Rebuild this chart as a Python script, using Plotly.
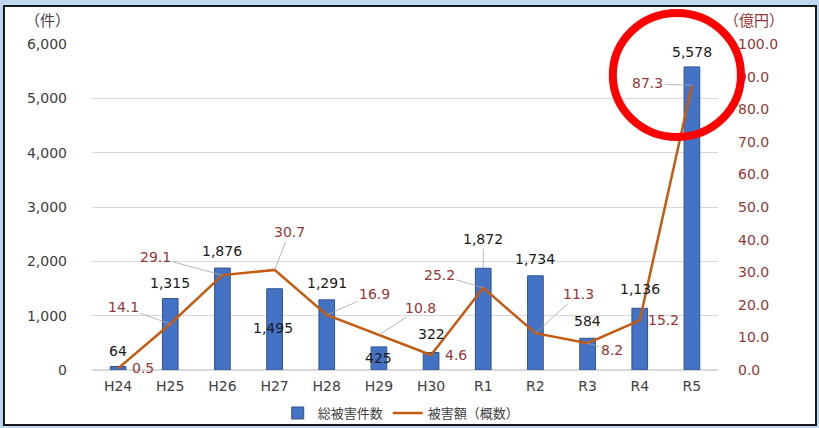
import plotly.graph_objects as go

# ---- data ----
categories = ["H24", "H25", "H26", "H27", "H28", "H29", "H30", "R1", "R2", "R3", "R4", "R5"]
cases = [64, 1315, 1876, 1495, 1291, 425, 322, 1872, 1734, 584, 1136, 5578]
damage = [0.5, 14.1, 29.1, 30.7, 16.9, 10.8, 4.6, 25.2, 11.3, 8.2, 15.2, 87.3]
left_ticks = [0, 1000, 2000, 3000, 4000, 5000, 6000]
right_ticks = [0, 10, 20, 30, 40, 50, 60, 70, 80, 90, 100]

# ---- label placement (pixel offsets: dx right, dy down) ----
bar_label_off = [(0, -16), (0, -16), (0, -17), (-2, 39), (0, -17), (0, 11),
                 (0, -19), (0, -29), (0, -17), (0, -17), (0, -19), (0, -15)]
bar_label_arrow = [False, False, False, False, False, False,
                   False, True, False, False, False, False]
line_label_off = [(25, 0), (-47, -17), (-67, -18), (15, -38), (48, -21), (42, -27),
                  (25, 0), (-44, -13), (43, -39), (24, 7), (24, 0), (-44, -2)]
line_label_arrow = [False, True, True, True, True, True,
                    False, True, True, True, False, True]

FONT = "DejaVu Sans, Noto Sans CJK JP, sans-serif"
JP = "Noto Sans CJK JP, sans-serif"
BAR = "#4472C4"
LINE = "#C55A11"
RED_TXT = "#953735"
GRAY_TXT = "#404040"

fig = go.Figure()
fig.add_trace(go.Bar(
    x=categories, y=cases, name="総被害件数",
    marker=dict(color=BAR, line=dict(color="#2F528F", width=1)),
    width=0.3, yaxis="y",
))
fig.add_trace(go.Scatter(
    x=categories, y=damage, name="被害額（概数）", mode="lines",
    line=dict(color=LINE, width=2.5), yaxis="y2",
))

ann = []
for c, v, (dx, dy), arr in zip(categories, cases, bar_label_off, bar_label_arrow):
    a = dict(x=c, y=v, xref="x", yref="y", text=f"{v:,}",
             font=dict(family=FONT, size=14, color="#1a1a1a"))
    if arr:
        a.update(showarrow=True, arrowhead=0, arrowwidth=0.8, arrowcolor="#A6A6A6",
                 ax=dx, ay=dy, standoff=0)
    else:
        a.update(showarrow=False, xshift=dx, yshift=-dy)
    ann.append(a)
for c, v, (dx, dy), arr in zip(categories, damage, line_label_off, line_label_arrow):
    a = dict(x=c, y=v, xref="x", yref="y2", text=f"{v:.1f}",
             font=dict(family=FONT, size=14, color=RED_TXT))
    if arr:
        a.update(showarrow=True, arrowhead=0, arrowwidth=0.8, arrowcolor="#A6A6A6",
                 ax=dx, ay=dy, standoff=0)
    else:
        a.update(showarrow=False, xshift=dx, yshift=-dy)
    ann.append(a)

ann.append(dict(x=-0.071, y=1.075, xref="paper", yref="paper", text="（件）",
                xanchor="center", yanchor="middle",
                showarrow=False, font=dict(family=JP, size=15, color=GRAY_TXT)))
ann.append(dict(x=1.057, y=1.075, xref="paper", yref="paper", text="（億円）",
                xanchor="center", yanchor="middle",
                showarrow=False, font=dict(family=JP, size=15, color=RED_TXT)))

shapes = [
    # white panel with dark frame
    dict(type="rect", xref="paper", yref="paper", x0=-0.1406, x1=1.1565,
         y0=-0.1687, y1=1.1166, fillcolor="white", line=dict(color="#1a1a1a", width=2),
         layer="below"),
    # red highlight circle
    dict(type="circle", xref="paper", yref="paper", x0=0.832, x1=1.0367,
         y0=0.7147, y1=1.095, line=dict(color="#FF0000", width=8), layer="above"),
]

fig.update_layout(
    width=819, height=428,
    margin=dict(l=92, r=101, t=44, b=58, autoexpand=False),
    paper_bgcolor="#BDD7EE", plot_bgcolor="white",
    font=dict(family=FONT, size=14, color=GRAY_TXT),
    showlegend=True,
    legend=dict(orientation="h", x=0.494, xanchor="center", y=-0.132, yanchor="middle",
                font=dict(family=JP, size=13, color=GRAY_TXT), bgcolor="rgba(0,0,0,0)",
                itemwidth=30, tracegroupgap=0),
    xaxis=dict(type="category", showgrid=False, showline=False, ticks="", automargin=False,
               tickfont=dict(family=FONT, size=14, color=GRAY_TXT), ticklabelstandoff=6),
    yaxis=dict(range=[0, 6000], tickvals=left_ticks, tickformat=",d", automargin=False,
               showgrid=True, gridcolor="#D9D9D9", gridwidth=1, zeroline=True,
               zerolinecolor="#D9D9D9", showline=False, ticks="",
               tickfont=dict(family=FONT, size=14, color=GRAY_TXT), ticklabelstandoff=24),
    yaxis2=dict(range=[0, 100], tickvals=right_ticks, tickformat=".1f", automargin=False,
                overlaying="y", side="right", showgrid=False, zeroline=False,
                showline=False, ticks="",
                tickfont=dict(family=FONT, size=14, color=RED_TXT), ticklabelstandoff=19),
    annotations=ann, shapes=shapes,
)

fig.write_html("out.html", config={"displayModeBar": False},
               post_script="document.body.style.margin='0';document.body.style.overflow='hidden';")
